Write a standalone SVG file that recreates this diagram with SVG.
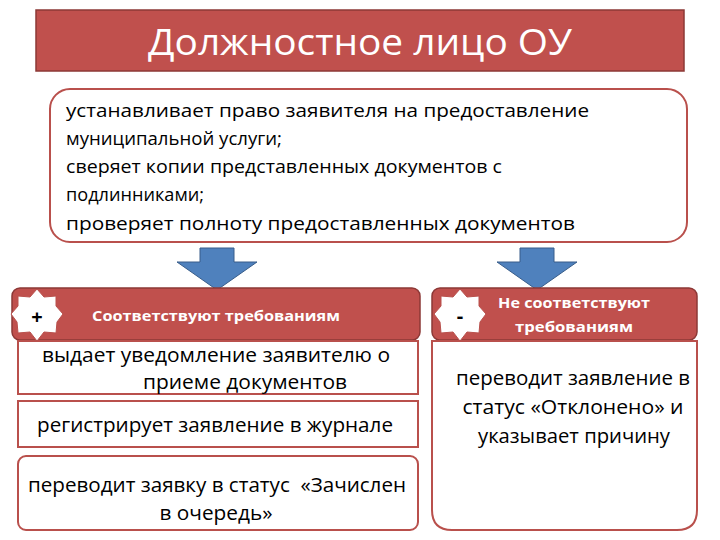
<svg xmlns="http://www.w3.org/2000/svg" width="720" height="540" viewBox="0 0 720 540">
<style>
.t{font-family:"Open Sans","Noto Sans",sans-serif;fill:#000}
.w{font-family:"Open Sans","Noto Sans",sans-serif;fill:#fff}
.red{fill:#c0504d;stroke:#8c3836;stroke-width:1.5}
.box{fill:#fff;stroke:#b9504c;stroke-width:2}
.arr{fill:#4f81bd;stroke:#385d8a;stroke-width:1}
.star{fill:#fff;stroke:#b9504c;stroke-width:1}
</style>
<rect width="720" height="540" fill="#fff"/>
<g id="title"><rect class="red" x="36" y="10" width="648" height="61"/>
<text class="w" x="360" y="55" font-size="36" text-anchor="middle" textLength="424" lengthAdjust="spacingAndGlyphs">Должностное лицо ОУ</text></g>
<g id="duties"><rect class="box" x="50" y="89" width="637" height="153" rx="20"/>
<g class="t" font-size="19">
<text x="66" y="117" textLength="523" lengthAdjust="spacingAndGlyphs">устанавливает право заявителя на предоставление</text>
<text x="66" y="145" textLength="216" lengthAdjust="spacingAndGlyphs">муниципальной услуги;</text>
<text x="66" y="173" textLength="436" lengthAdjust="spacingAndGlyphs">сверяет копии представленных документов с</text>
<text x="66" y="201" textLength="138" lengthAdjust="spacingAndGlyphs">подлинниками;</text>
<text x="66" y="230" textLength="509" lengthAdjust="spacingAndGlyphs">проверяет полноту предоставленных документов</text></g></g>
<g id="connectors">
<path class="arr" d="M200 248H234V262H257L217 290L177 262H200Z"/>
<path class="arr" d="M520 248H554V262H577L537 290L497 262H520Z"/>
</g>
<g id="yes"><rect class="red" x="12" y="288" width="408" height="52" rx="8"/>
<path class="star" d="M37 289L44 297L56 296L56 306L63 314L57 322L56 333L44 332L37 341L30 332L18 333L17 322L11 314L18 306L18 296L30 297Z"/>
<text class="t" x="37" y="324" font-size="20" font-weight="bold" text-anchor="middle">+</text>
<text class="w" x="216" y="321" font-size="15" font-weight="bold" text-anchor="middle" textLength="248" lengthAdjust="spacingAndGlyphs">Соответствуют требованиям</text></g>
<g id="no"><rect class="red" x="432" y="288" width="265" height="52" rx="8"/>
<path class="star" d="M460 289L467 297L479 296L479 306L486 314L480 322L479 333L467 332L460 341L453 332L441 333L440 322L434 314L441 306L441 296L453 297Z"/>
<text class="t" x="460" y="323" font-size="20" font-weight="bold" text-anchor="middle">-</text>
<text class="w" x="574" y="308" font-size="15" font-weight="bold" text-anchor="middle" textLength="152" lengthAdjust="spacingAndGlyphs">Не соответствуют</text>
<text class="w" x="574" y="332" font-size="15" font-weight="bold" text-anchor="middle" textLength="118" lengthAdjust="spacingAndGlyphs">требованиям</text></g>
<g id="yes1"><rect class="box" x="18" y="341" width="400" height="53"/>
<text class="t" x="216" y="362" font-size="20" text-anchor="middle" textLength="348" lengthAdjust="spacingAndGlyphs">выдает уведомление заявителю о</text>
<text class="t" x="245" y="389" font-size="20" text-anchor="middle" textLength="204" lengthAdjust="spacingAndGlyphs">приеме документов</text></g>
<g id="yes2"><rect class="box" x="18" y="401" width="400" height="46"/>
<text class="t" x="215" y="432" font-size="20" text-anchor="middle" textLength="356" lengthAdjust="spacingAndGlyphs">регистрирует заявление в журнале</text></g>
<g id="yes3"><rect class="box" x="18" y="456" width="400" height="74" rx="8"/>
<text class="t" x="217" y="492" font-size="20" text-anchor="middle" textLength="378" lengthAdjust="spacingAndGlyphs" xml:space="preserve">переводит заявку в статус  «Зачислен</text>
<text class="t" x="216" y="520" font-size="20" text-anchor="middle" textLength="113" lengthAdjust="spacingAndGlyphs">в очередь»</text></g>
<g id="no1"><path class="box" d="M432 341H697V510Q697 530 677 530H452Q432 530 432 510Z"/>
<text class="t" x="573" y="385" font-size="20" text-anchor="middle" textLength="234" lengthAdjust="spacingAndGlyphs">переводит заявление в</text>
<text class="t" x="573" y="414" font-size="20" text-anchor="middle" textLength="221" lengthAdjust="spacingAndGlyphs">статус «Отклонено» и</text>
<text class="t" x="574" y="443" font-size="20" text-anchor="middle" textLength="192" lengthAdjust="spacingAndGlyphs">указывает причину</text></g>
</svg>
